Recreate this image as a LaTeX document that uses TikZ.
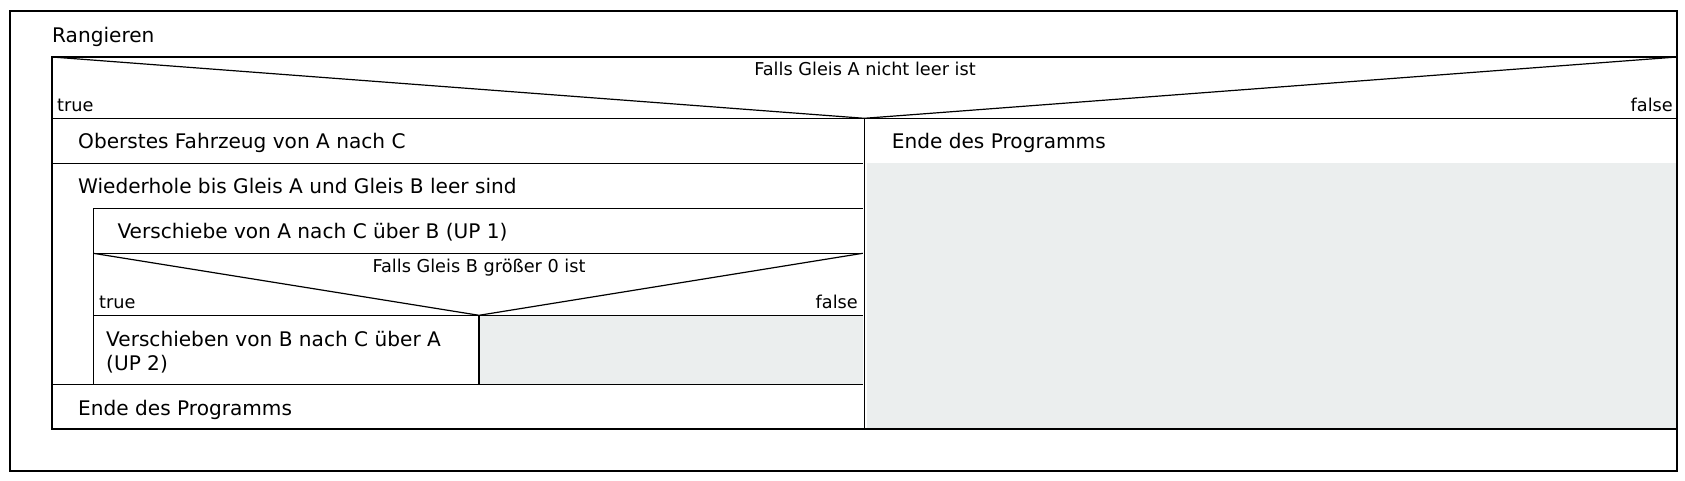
\documentclass[tikz,border=0pt]{standalone}
\usepackage{fontspec}
\setmainfont{DejaVu Sans}
\definecolor{emptygray}{RGB}{235,238,238}
\begin{document}
\begin{tikzpicture}[x=1bp,y=-1bp,
  frame/.style={draw=black,line width=1.2bp},
  rule/.style={draw=black,line width=1.2bp},
  big/.style={inner sep=0pt,font=\fontsize{20.1bp}{24bp}\selectfont},
  small/.style={inner sep=0pt,font=\fontsize{17.7bp}{21bp}\selectfont},
  emptycell/.style={fill=emptygray}]
\useasboundingbox (0,0) rectangle (1685,481);
% grey empty branches
\fill[emptycell] (866.5,163.3) rectangle (1677,429);
\fill[emptycell] (479,315.3) rectangle (862.7,384.3);
% outer frame
\draw[frame] (10,11) rectangle (1677,471);
% main structure box
\draw[rule] (52,57) rectangle (1677,429);
% outer if: diagonals and separator
\coordinate (apexA) at (864.3,118.3);
\draw[rule] (52,57) -- (apexA) -- (1677,57);
\draw[rule] (52,118.3) -- (1677,118.3);
\draw[rule] (apexA) -- (864.3,429);
% left branch rows
\draw[rule] (52,163.3) -- (862.7,163.3);
\draw[rule] (93.3,208.7) -- (862.7,208.7);
\draw[rule] (93.3,208.7) -- (93.3,384.3);
\draw[rule] (93.3,253.3) -- (862.7,253.3);
% inner if
\coordinate (apexB) at (479,315.3);
\draw[rule] (93.3,253.3) -- (apexB) -- (862.7,253.3);
\draw[rule] (93.3,315.3) -- (862.7,315.3);
\draw[rule] (apexB) -- (479,384.3);
\draw[rule] (52,384.3) -- (862.7,384.3);
% texts
\node[big,anchor=base west] (title) at (52,42.7) {Rangieren};
\node[small,anchor=base] (condA) at (865,76) {Falls Gleis A nicht leer ist};
\node[small,anchor=base west] (trueA) at (57,111.7) {true};
\node[small,anchor=base east] (falseA) at (1673,111.7) {false};
\node[big,anchor=base west] (s1) at (78,149) {Oberstes Fahrzeug von A nach C};
\node[big,anchor=base west] (loop) at (78,193.3) {Wiederhole bis Gleis A und Gleis B leer sind};
\node[big,anchor=base west] (s2) at (117.3,239) {Verschiebe von A nach C über B (UP 1)};
\node[small,anchor=base] (condB) at (479,272.7) {Falls Gleis B größer 0 ist};
\node[small,anchor=base west] (trueB) at (99,309) {true};
\node[small,anchor=base east] (falseB) at (858,309) {false};
\node[big,anchor=base west] (s3a) at (106,346) {Verschieben von B nach C über A};
\node[big,anchor=base west] (s3b) at (106,370) {(UP 2)};
\node[big,anchor=base west] (endL) at (78,415) {Ende des Programms};
\node[big,anchor=base west] (endR) at (891.7,149) {Ende des Programms};
\end{tikzpicture}
\end{document}
